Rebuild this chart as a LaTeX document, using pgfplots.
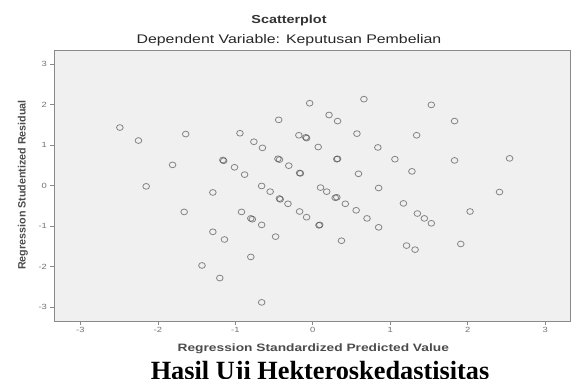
\documentclass[border=0pt]{standalone}
\usepackage{fontspec}
\setmainfont{Liberation Sans}
\newfontfamily\serifb{Liberation Serif}
\usepackage{pgfplots}
\pgfplotsset{compat=1.18}
\definecolor{bgc}{HTML}{F0F0F0}
\definecolor{framec}{HTML}{8A8A8A}
\definecolor{markc}{HTML}{4A4A4A}
\begin{document}
\begin{tikzpicture}[x=1bp,y=1bp]
\path[use as bounding box] (0,0) rectangle (571,-378);
\begin{axis}[
  at={(54bp,-321bp)}, anchor=south west,
  width=516bp, height=270.5bp, scale only axis,
  xmin=-3.34, xmax=3.32, ymin=-3.34, ymax=3.33,
  xtick={-3,-2,-1,0,1,2,3}, ytick={-3,-2,-1,0,1,2,3},
  xtick pos=bottom, ytick pos=left,
  tick align=outside, major tick length=4bp,
  every tick/.style={draw=framec, line width=0.6bp},
  axis line style={draw=framec, line width=0.9bp},
  axis background/.style={fill=bgc},
  /pgf/number format/assume math mode=true,
  tick label style={font=\fontsize{7.5bp}{8bp}\selectfont, text=black!55, xscale=1.25},
  xticklabel style={yshift=1bp},
  yticklabel style={xshift=1bp},
  clip=false,
]
\addplot[only marks, mark=o, mark size=2.9bp,
  mark options={draw=markc, draw opacity=0.65, line width=0.8bp, xscale=1.15}]
coordinates {
(-2.49,1.43) (-2.25,1.11) (-1.64,1.27) (-1.81,0.51) (-2.15,-0.02)
(-1.29,-0.17) (-1.66,-0.65) (-1.16,0.63) (-1.15,0.61) (-1.01,0.45)
(-0.88,0.27) (-0.94,1.29) (-0.76,1.08) (-0.65,0.93) (-0.44,1.62)
(-0.45,0.66) (-0.43,0.64) (-0.31,0.49) (-0.66,-0.01) (-0.55,-0.15)
(-0.43,-0.32) (-0.42,-0.34) (-0.32,-0.45) (-0.92,-0.65) (-0.80,-0.81)
(-0.78,-0.83) (-0.66,-0.97) (-1.29,-1.14) (-1.14,-1.33) (-0.48,-1.26)
(-0.80,-1.76) (-1.43,-1.97) (-1.20,-2.28) (-0.66,-2.88)
(-0.04,2.03) (0.66,2.13) (1.53,1.99) (0.21,1.74) (0.32,1.59)
(1.83,1.59) (-0.18,1.24) (-0.09,1.19) (-0.08,1.17) (0.57,1.28)
(1.34,1.24) (0.07,0.95) (0.84,0.94) (-0.17,0.31) (-0.16,0.30)
(0.31,0.65) (0.32,0.66) (1.06,0.65) (1.83,0.62) (2.54,0.67)
(0.59,0.29) (1.28,0.35) (0.10,-0.05) (0.18,-0.15) (0.85,-0.06)
(2.41,-0.16) (-0.17,-0.64) (-0.08,-0.78) (0.08,-0.98) (0.09,-0.97)
(0.29,-0.30) (0.31,-0.29) (0.42,-0.45) (0.56,-0.61) (0.70,-0.81)
(0.85,-1.03) (1.17,-0.44) (1.35,-0.69) (1.44,-0.81) (1.53,-0.93)
(2.03,-0.64) (0.37,-1.36) (1.21,-1.48) (1.32,-1.58) (1.91,-1.44)
};
\end{axis}
\node[anchor=base, font=\bfseries\fontsize{11.6bp}{13bp}\selectfont, text=black!80, xscale=1.24] at (289,-23.3) {Scatterplot};
\node[anchor=base, font=\fontsize{12.5bp}{14bp}\selectfont, text=black!85, xscale=1.27] at (289,-43.3) {Dependent Variable: Keputusan Pembelian};
\node[anchor=base, font=\bfseries\fontsize{10.7bp}{12bp}\selectfont, text=black!70, xscale=1.285] at (313.3,-351.7) {Regression Standardized Predicted Value};
\node[rotate=90, font=\bfseries\fontsize{10.7bp}{12bp}\selectfont, text=black!70] at (23,-185) {Regression Studentized Residual};
\node[anchor=base, font=\serifb\bfseries\fontsize{26.3bp}{28bp}\selectfont, text=black] at (320,-379.6) {Hasil Uji Hekteroskedastisitas};
\end{tikzpicture}
\end{document}
